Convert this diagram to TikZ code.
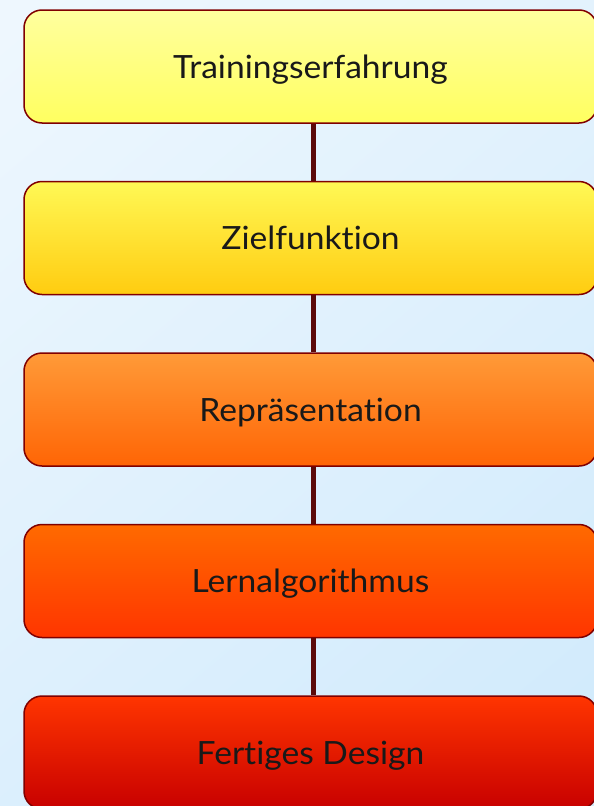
\documentclass[tikz,border=0pt]{standalone}
\usepackage{fontspec}
\setmainfont[Ligatures=NoCommon,FakeStretch=1.05]{Lato}
\definecolor{bgA}{HTML}{EEF7FE}
\definecolor{bgB}{HTML}{D0EAFC}
\definecolor{brd}{HTML}{800000}
\definecolor{conn}{HTML}{5C0A0A}
\definecolor{c1t}{HTML}{FFFF9E}
\definecolor{c1b}{HTML}{FFFF60}
\definecolor{c2t}{HTML}{FFF855}
\definecolor{c2b}{HTML}{FFCC10}
\definecolor{c3t}{HTML}{FF9A38}
\definecolor{c3b}{HTML}{FF6505}
\definecolor{c4t}{HTML}{FF6A00}
\definecolor{c4b}{HTML}{FF3500}
\definecolor{c5t}{HTML}{FF3500}
\definecolor{c5b}{HTML}{C80000}
\begin{document}
\begin{tikzpicture}[x=1pt,y=-1pt,
  box/.style={rectangle, rounded corners=18pt, draw=brd, line width=1.5pt,
    minimum width=573pt, minimum height=113pt, inner sep=0pt,
    text height=23pt, text depth=0pt,
    font=\fontsize{32}{38}\selectfont, text=black!90},
  link/.style={draw=conn, line width=5pt}]
\useasboundingbox (0,0) rectangle (594,806);
\shade[top color=bgA, bottom color=bgB, shading angle=40] (-120,-120) rectangle (714,926);
\node[box, top color=c1t, bottom color=c1b] (b1) at (310.5,66.5) {Trainingserfahrung};
\node[box, top color=c2t, bottom color=c2b] (b2) at (310.5,238) {Zielfunktion};
\node[box, top color=c3t, bottom color=c3b] (b3) at (310.5,409.5) {Repräsentation};
\node[box, top color=c4t, bottom color=c4b] (b4) at (310.5,581) {Lernalgorithmus};
\node[box, top color=c5t, bottom color=c5b] (b5) at (310.5,752.5) {Fertiges Design};
\draw[link] ([xshift=2.5pt]b1.south) -- ([xshift=2.5pt]b2.north);
\draw[link] ([xshift=2.5pt]b2.south) -- ([xshift=2.5pt]b3.north);
\draw[link] ([xshift=2.5pt]b3.south) -- ([xshift=2.5pt]b4.north);
\draw[link] ([xshift=2.5pt]b4.south) -- ([xshift=2.5pt]b5.north);
\end{tikzpicture}
\end{document}
